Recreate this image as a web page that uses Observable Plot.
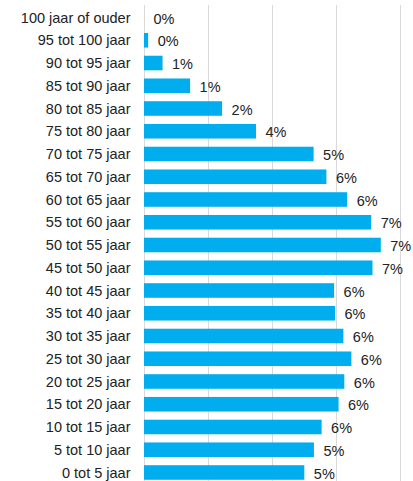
<!DOCTYPE html>
<html>
<head>
<meta charset="utf-8">
<script src="https://cdn.jsdelivr.net/npm/d3@7"></script>
<script src="https://cdn.jsdelivr.net/npm/@observablehq/plot@0.6"></script>
<style>
  html, body { margin: 0; padding: 0; background: #fff; }
  #chart svg { display: block; }
</style>
</head>
<body>
<div id="chart"></div>
<script>
const categories = [
  "100 jaar of ouder", "95 tot 100 jaar", "90 tot 95 jaar", "85 tot 90 jaar",
  "80 tot 85 jaar", "75 tot 80 jaar", "70 tot 75 jaar", "65 tot 70 jaar",
  "60 tot 65 jaar", "55 tot 60 jaar", "50 tot 55 jaar", "45 tot 50 jaar",
  "40 tot 45 jaar", "35 tot 40 jaar", "30 tot 35 jaar", "25 tot 30 jaar",
  "20 tot 25 jaar", "15 tot 20 jaar", "10 tot 15 jaar", "5 tot 10 jaar",
  "0 tot 5 jaar"
];
const values = [
  0.0, 0.13, 0.58, 1.44, 2.44, 3.5, 5.3, 5.7, 6.35, 7.1, 7.4, 7.14,
  5.94, 5.97, 6.23, 6.48, 6.26, 6.08, 5.55, 5.31, 5.01
];
const valueLabels = [
  "0%", "0%", "1%", "1%", "2%", "4%", "5%", "6%", "6%", "7%", "7%", "7%",
  "6%", "6%", "6%", "6%", "6%", "6%", "6%", "5%", "5%"
];
const gridTicks = [0, 2, 4, 6, 8];

const data = categories.map((c, i) => ({cat: c, value: values[i], label: valueLabels[i]}));

const chart = Plot.plot({
  width: 413,
  height: 481,
  marginTop: 5,
  marginBottom: -4,
  marginLeft: 144,
  marginRight: 13,
  style: {fontFamily: "'Liberation Sans', Arial, sans-serif", fontSize: "14.5px", color: "#222", background: "#fff"},
  x: {domain: [0, 8], axis: null},
  y: {domain: categories, paddingInner: 0.36, paddingOuter: 0.23, round: false, label: null},
  marks: [
    Plot.ruleX(gridTicks, {stroke: "#d9d9d9", strokeWidth: 1}),
    Plot.barX(data, {x: "value", y: "cat", fill: "#00ADEE"}),
    Plot.text(data, {x: "value", y: "cat", text: "label", textAnchor: "start", dx: 9, dy: 1, fill: "#222", fontSize: 14.5}),
    Plot.axisY({tickSize: 0, tickPadding: 14, fontSize: 14.5, label: null, fill: "#222"})
  ]
});
document.getElementById("chart").append(chart);
</script>
</body>
</html>
